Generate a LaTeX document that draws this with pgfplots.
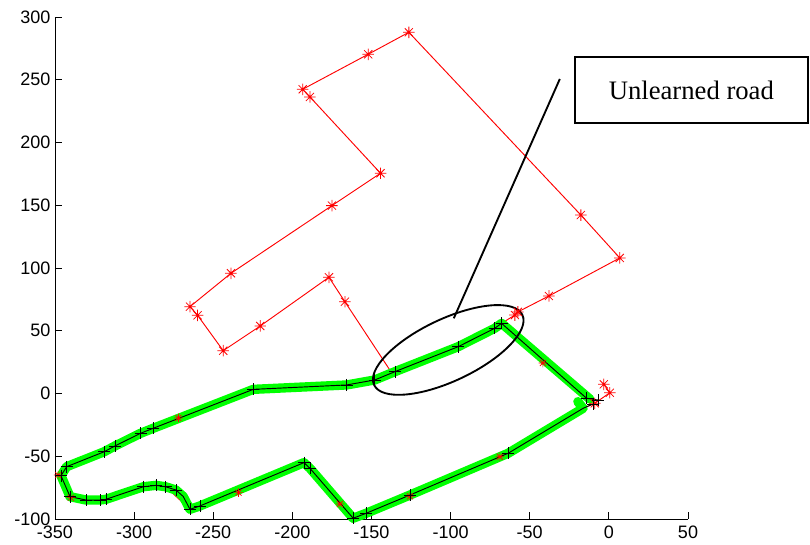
\documentclass[border=0pt]{standalone}
\usepackage{fontspec}
\setmainfont{Liberation Sans}
\newfontfamily\timesfont{Liberation Serif}
\usepackage{pgfplots}
\pgfplotsset{compat=1.18}
\usetikzlibrary{shapes.geometric}
\definecolor{mgreen}{RGB}{0,255,0}
\pgfdeclareplotmark{ast}{%
  \pgfpathmoveto{\pgfqpoint{-\pgfplotmarksize}{0pt}}\pgfpathlineto{\pgfqpoint{\pgfplotmarksize}{0pt}}%
  \pgfpathmoveto{\pgfqpoint{0pt}{-\pgfplotmarksize}}\pgfpathlineto{\pgfqpoint{0pt}{\pgfplotmarksize}}%
  \pgfpathmoveto{\pgfqpoint{-0.707\pgfplotmarksize}{-0.707\pgfplotmarksize}}\pgfpathlineto{\pgfqpoint{0.707\pgfplotmarksize}{0.707\pgfplotmarksize}}%
  \pgfpathmoveto{\pgfqpoint{-0.707\pgfplotmarksize}{0.707\pgfplotmarksize}}\pgfpathlineto{\pgfqpoint{0.707\pgfplotmarksize}{-0.707\pgfplotmarksize}}%
  \pgfusepathqstroke}
\begin{document}
\begin{tikzpicture}
\begin{axis}[name=ax, scale only axis, width=474.75pt, height=376.5pt,
  xmin=-350, xmax=50, ymin=-100, ymax=300,
  axis lines*=left, axis line style={-, black, line width=0.6pt},
  tick align=inside, major tick length=5pt, tick style={black, line width=0.6pt},
  xtick={-350,-300,...,50}, ytick={-100,-50,...,300},
  /pgf/number format/assume math mode=true,
  tick label style={font=\fontsize{13.5}{16}\selectfont},
  xticklabel style={yshift=-1.5pt},
  clip=false]
% red estimated path (line)
\addplot[red, line width=0.7pt, no marks] coordinates {
(-3.2,7.3) (0.6,0.6) (-8.9,-7.8) (-41.7,24.3) (-67.8,55.9) (-59.4,62.5) (-57.5,65)
(-37.9,77.7) (6.9,108) (-17.7,142.2) (-126.4,287.8) (-152.1,270.3) (-193.5,242.4)
(-188.9,236.3) (-144.3,175.5) (-175,149.7) (-238.8,95.8) (-264.7,69.2) (-259.9,62.3)
(-243.7,34.1) (-220.3,53.8) (-176.9,92.6) (-166.8,73.1) (-137,16) (-147.9,10.8)
(-165.7,6.8) (-224.7,3.3) (-272,-19.5) (-312.1,-41.8) (-342.6,-58.3) (-346.2,-65.5)
(-340.5,-82.2) (-321.6,-84.9) (-294.2,-74.3) (-280.1,-74.3) (-264.7,-92.3) (-234,-79)
(-192.7,-55.1) (-170,-87.4) (-161.6,-99.4) (-125.7,-81) (-68.9,-50.4) (-16.3,-11.8) (-8.9,-7.8)
};
% red markers (free)
\addplot[red, only marks, mark=ast, mark size=4.3pt, mark options={line width=0.6pt}] coordinates {
(-3.2,7.3) (0.6,0.6) (-8.9,-7.8) (-59.4,62.5) (-57.5,65)
(-37.9,77.7) (6.9,108) (-17.7,142.2) (-126.4,287.8) (-152.1,270.3) (-193.5,242.4)
(-188.9,236.3) (-144.3,175.5) (-175,149.7) (-238.8,95.8) (-264.7,69.2) (-259.9,62.3)
(-243.7,34.1) (-220.3,53.8) (-176.9,92.6) (-166.8,73.1)
};
% red markers (mostly hidden under the learned road)
\addplot[red, only marks, mark=ast, mark size=3.2pt, mark options={line width=0.5pt}] coordinates {
(-41.7,24.3) (-272,-19.5) (-348,-65) (-340,-83) (-234,-79) (-170,-88) (-125.7,-82) (-68.9,-50.4)
};
% green learned road
\addplot[mgreen, line width=7pt, line cap=round, line join=round, no marks] coordinates {
(-12,-4.5) (-67.8,55.9) (-72.1,52.0) (-95.2,37.3) (-135.2,17.4) (-147.9,10.8)
(-165.7,6.8) (-224.7,3.3) (-287.9,-27.7) (-295.9,-31.7) (-312.1,-41.8) (-318.9,-46.4)
(-342.6,-58.3) (-346.2,-65.5) (-340.5,-82.2) (-330.4,-84.9) (-321.6,-84.9) (-317.8,-84.3)
(-294.2,-74.3) (-286.2,-73.2) (-280.1,-74.3) (-273.6,-76.9) (-269,-82) (-266.5,-88)
(-264.7,-92.3) (-258.4,-89.6) (-192.7,-55.1) (-188.9,-59.6) (-161.6,-99.4) (-153.5,-95.5)
(-125.7,-80.9) (-63.6,-47.6) (-16.3,-11.8) (-19.6,-6.5)
};
% black path
\addplot[black, line width=0.7pt, no marks] coordinates {
(-6.8,-5.2) (-14.1,-3.8) (-67.8,55.9) (-72.1,52.0) (-95.2,37.3) (-135.2,17.4) (-147.9,10.8)
(-165.7,6.8) (-224.7,3.3) (-287.9,-27.7) (-295.9,-31.7) (-312.1,-41.8) (-318.9,-46.4)
(-342.6,-58.3) (-346.2,-65.5) (-340.5,-82.2) (-330.4,-84.9) (-321.6,-84.9) (-317.8,-84.3)
(-294.2,-74.3) (-286.2,-73.2) (-280.1,-74.3) (-273.6,-76.9) (-269,-82) (-266.5,-88)
(-264.7,-92.3) (-258.4,-89.6) (-192.7,-55.1) (-188.9,-59.6) (-161.6,-99.4) (-153.5,-95.5)
(-125.7,-80.9) (-63.6,-47.6) (-16.3,-11.8) (-10,-8.4)
};
\addplot[black, only marks, mark=+, mark size=4.5pt, mark options={line width=0.6pt}] coordinates {
(-6.8,-5.2) (-14.1,-3.8) (-10,-8.4) (-67.8,55.9) (-72.1,52.0) (-95.2,37.3) (-135.2,17.4) (-147.9,10.8)
(-165.7,6.8) (-224.7,3.3) (-287.9,-27.7) (-295.9,-31.7) (-312.1,-41.8) (-318.9,-46.4)
(-342.6,-58.3) (-346.2,-65.5) (-340.5,-82.2) (-330.4,-84.9) (-321.6,-84.9) (-317.8,-84.3)
(-294.2,-74.3) (-286.2,-73.2) (-280.1,-74.3) (-273.6,-76.9)
(-264.7,-92.3) (-258.4,-89.6) (-192.7,-55.1) (-188.9,-59.6) (-161.6,-99.4) (-153.5,-95.5)
(-125.7,-80.9) (-63.6,-47.6)
};
% annotation
\node[draw, ellipse, line width=1.4pt, rotate=25.3, minimum width=123pt, minimum height=46.5pt, inner sep=0pt] at (axis cs:-101.5,34.7) {};
\draw[line width=1.4pt] (axis cs:-98,59.9) -- (axis cs:-31,250.6);
\node[draw, line width=1.5pt, minimum width=174.75pt, minimum height=49.5pt, inner sep=0pt,
  font=\timesfont\fontsize{20}{24}\selectfont] at (axis cs:52.1,241.8) {Unlearned road};
\end{axis}
\pgfresetboundingbox
\path[use as bounding box] ([xshift=-41.25pt,yshift=-19.5pt]ax.south west) rectangle ([xshift=91.5pt,yshift=12.75pt]ax.north east);
\end{tikzpicture}
\end{document}
